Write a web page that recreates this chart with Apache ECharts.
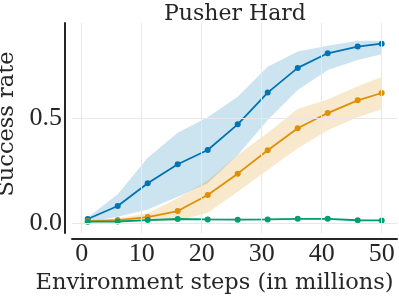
<!DOCTYPE html>
<html>
<head>
<meta charset="utf-8">
<script src="https://cdn.jsdelivr.net/npm/echarts@6/dist/echarts.min.js"></script>
<style>html,body{margin:0;padding:0;background:#fff}#c{width:399px;height:297px}</style>
</head>
<body>
<div id="c"></div>
<script>
const steps = [1, 6, 11, 16, 21, 26, 31, 36, 41, 46, 50];
const blueMean = [0.018, 0.080, 0.189, 0.280, 0.348, 0.471, 0.623, 0.741, 0.811, 0.843, 0.857];
const blueLow = [0.005, 0.029, 0.064, 0.125, 0.189, 0.324, 0.492, 0.635, 0.731, 0.779, 0.806];
const blueHigh = [0.025, 0.137, 0.311, 0.431, 0.505, 0.603, 0.747, 0.820, 0.847, 0.871, 0.871];
const orangeMean = [0.008, 0.013, 0.027, 0.056, 0.133, 0.235, 0.347, 0.452, 0.525, 0.586, 0.621];
const orangeLow = [0.000, 0.005, 0.010, 0.008, 0.048, 0.148, 0.252, 0.356, 0.443, 0.505, 0.543];
const orangeHigh = [0.012, 0.020, 0.045, 0.117, 0.204, 0.324, 0.431, 0.545, 0.590, 0.653, 0.697];
const greenMean = [0.005, 0.006, 0.013, 0.018, 0.016, 0.015, 0.016, 0.019, 0.019, 0.012, 0.011];
const greenLow = [0.002, 0.003, 0.009, 0.013, 0.012, 0.011, 0.012, 0.015, 0.015, 0.008, 0.007];
const greenHigh = [0.008, 0.009, 0.017, 0.023, 0.020, 0.019, 0.020, 0.023, 0.023, 0.016, 0.015];
const xTicks = [0, 10, 20, 30, 40, 50];
const yTicks = [0, 0.5];
const titleText = 'Pusher Hard';
const xName = 'Environment steps (in millions)';
const yName = 'Success rate';

const chart = echarts.init(document.getElementById('c'), null, {renderer: 'canvas'});
const textFont = 'DejaVu Serif';
const numFont = 'Liberation Serif';
const ink = '#262626';

function pairs(ys) { return steps.map((x, i) => [x, ys[i]]); }

function band(name, lo, hi, color) {
  return {
    type: 'custom', name: name, silent: true, z: 2,
    data: [[steps[0], lo[0]]],
    renderItem: function (params, api) {
      const pts = [];
      for (let i = 0; i < steps.length; i++) pts.push(api.coord([steps[i], hi[i]]));
      for (let i = steps.length - 1; i >= 0; i--) pts.push(api.coord([steps[i], lo[i]]));
      return {type: 'polygon', shape: {points: pts}, style: {fill: color, stroke: null}};
    }
  };
}
function meanLine(name, ys, color) {
  return {type: 'line', name: name, data: pairs(ys), symbol: 'circle', symbolSize: 6,
    itemStyle: {color: color}, lineStyle: {color: color, width: 1.8}, z: 3};
}

const series = [
  {type: 'line', name: 'grid', data: [[steps[0], greenMean[0]]], symbol: 'none',
   lineStyle: {opacity: 0}, silent: true, z: 1,
   markLine: {silent: true, symbol: ['none', 'none'], label: {show: false},
     lineStyle: {color: '#e8e8e8', width: 1, type: 'solid'}, animation: false,
     data: xTicks.map(v => ({xAxis: v})).concat(yTicks.map(v => ({yAxis: v})))}},
  band('bBand', blueLow, blueHigh, 'rgba(1,115,178,0.2)'),
  band('oBand', orangeLow, orangeHigh, 'rgba(222,143,5,0.2)'),
  band('gBand', greenLow, greenHigh, 'rgba(2,158,115,0.2)'),
  meanLine('blue', blueMean, '#0173b2'),
  meanLine('orange', orangeMean, '#de8f05'),
  meanLine('green', greenMean, '#029e73')
];

chart.setOption({
  animation: false,
  backgroundColor: '#fff',
  title: {text: titleText, left: 230, textAlign: 'center', top: -2,
    textStyle: {fontFamily: textFont, fontSize: 22, fontWeight: 'normal', color: ink}},
  grid: {left: 72, right: 2, top: 23, bottom: 64, containLabel: false, outerBoundsMode: 'none'},
  xAxis: {type: 'value', min: -1.62, max: 52.55, offset: 6,
    name: xName, nameLocation: 'middle', nameGap: 30,
    nameTextStyle: {fontFamily: textFont, fontSize: 22.5, color: ink, padding: [0, 40, 0, 0]},
    axisLine: {show: true, onZero: false, lineStyle: {color: ink, width: 2}},
    axisTick: {show: false}, splitLine: {show: false},
    axisLabel: {customValues: xTicks, margin: 2, fontFamily: numFont, fontSize: 26, color: ink,
      formatter: v => String(v)}},
  yAxis: {type: 'value', min: -0.049, max: 0.956, offset: 7,
    name: yName, nameLocation: 'middle', nameGap: 31, nameRotate: 90,
    nameTextStyle: {fontFamily: textFont, fontSize: 22.5, color: ink, padding: [0, 0, 0, 8]},
    axisLine: {show: true, onZero: false, lineStyle: {color: ink, width: 2}},
    axisTick: {show: false}, splitLine: {show: false},
    axisLabel: {customValues: yTicks, margin: 3, fontFamily: numFont, fontSize: 26, color: ink,
      formatter: v => v.toFixed(1)}},
  series: series
});
</script>
</body>
</html>
